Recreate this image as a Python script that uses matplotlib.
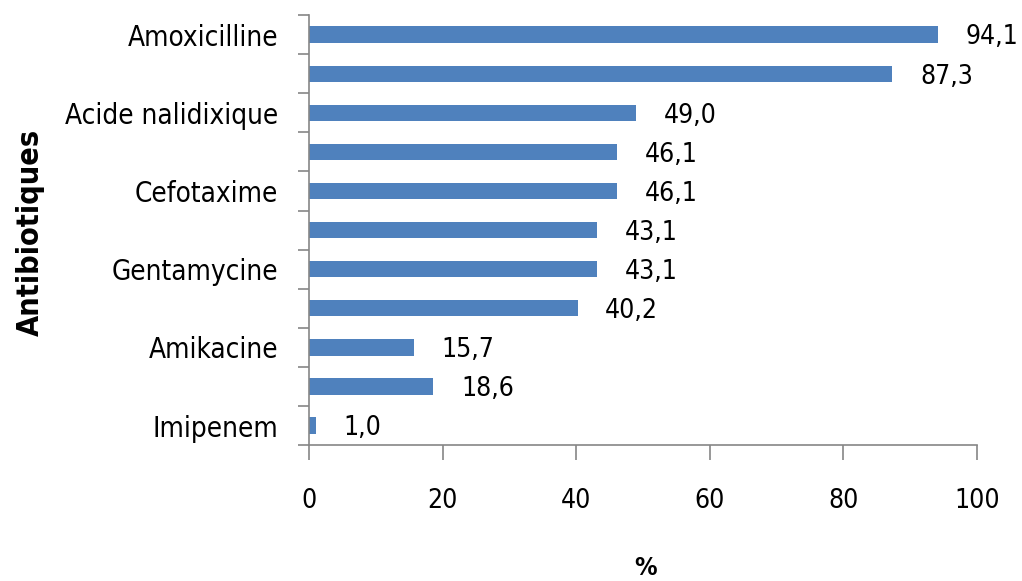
import matplotlib
matplotlib.use("Agg")
import matplotlib.pyplot as plt
import numpy as np

plt.rcParams['font.family'] = ['DejaVu Sans']
plt.rcParams['font.stretch'] = 'condensed'

antibiotiques = ['Amoxicilline', '', 'Acide nalidixique', '', 'Cefotaxime', '',
                 'Gentamycine', '', 'Amikacine', '', 'Imipenem']
valeurs = [94.1, 87.3, 49.0, 46.1, 46.1, 43.1, 43.1, 40.2, 15.7, 18.6, 1.0]
xticks = [0, 20, 40, 60, 80, 100]

fig = plt.figure(figsize=(10.22, 5.81), dpi=100)
ax = fig.add_axes([0.3023, 0.234, 0.6537, 0.740])

pos = np.arange(len(valeurs))
ax.barh(pos, valeurs, height=0.42, color='#4F81BD')
ax.set_ylim(len(valeurs) - 0.5, -0.5)
ax.set_xlim(0, 100)

for p, v in zip(pos, valeurs):
    ax.annotate(f'{v:.1f}'.replace('.', ','), (v, p), xytext=(20, -2),
                textcoords='offset points', va='center', ha='left', fontsize=19)

ax.set_yticks(pos)
ax.set_yticklabels(antibiotiques, fontsize=20)
ax.tick_params(axis='y', which='major', length=0, pad=22)
ax.set_yticks(np.arange(-0.5, len(valeurs) + 0.5, 1), minor=True)
ax.tick_params(axis='y', which='minor', length=8, color='#868686', width=1.2)

ax.set_xticks(xticks)
ax.set_xticklabels([str(t) for t in xticks], fontsize=19)
ax.tick_params(axis='x', length=11, color='#868686', width=1.2, pad=20)

for s in ['top', 'right']:
    ax.spines[s].set_visible(False)
for s in ['left', 'bottom']:
    ax.spines[s].set_color('#868686')
    ax.spines[s].set_linewidth(1.2)

fig.text(0.632, 0.022, '%', fontsize=18, fontweight='bold', ha='center', va='center')
fig.text(0.03, 0.60, 'Antibiotiques', rotation=90, fontsize=22,
         fontweight='bold', ha='center', va='center')

fig.savefig('out.png', dpi=100)
